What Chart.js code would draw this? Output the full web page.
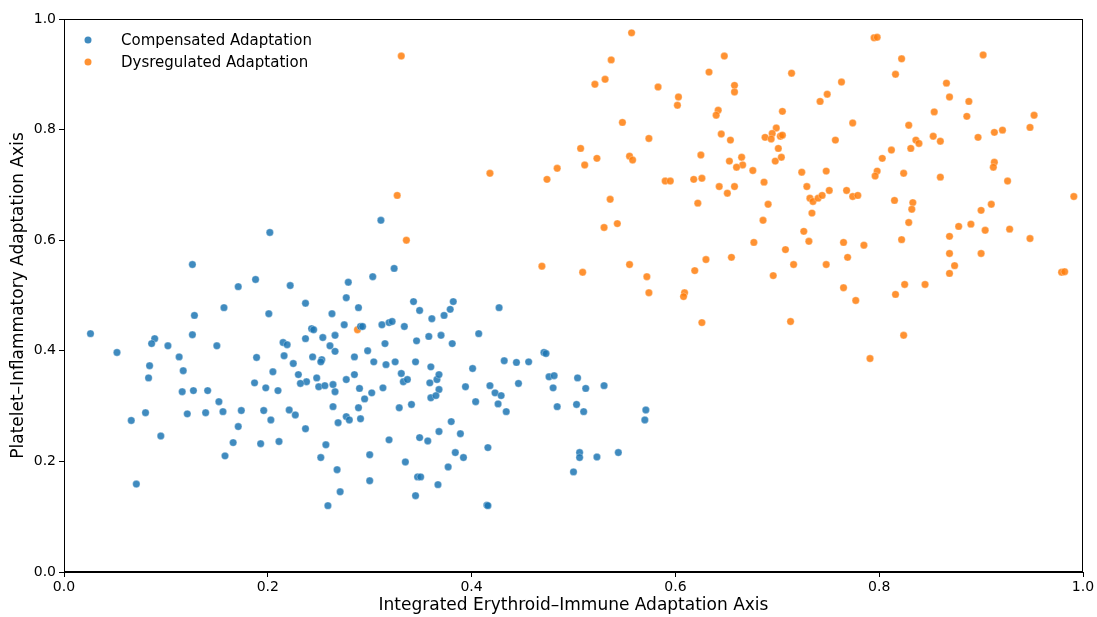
<!DOCTYPE html>
<html lang="en">
<head>
<meta charset="UTF-8">
<title>Adaptation axes</title>
<script src="https://cdn.jsdelivr.net/npm/chart.js"></script>
<style>
  html, body { margin: 0; padding: 0; background: #fff; }
  #wrap { width: 1097px; height: 617px; }
</style>
</head>
<body>
<div id="wrap"><canvas id="scatter" width="1097" height="617"></canvas></div>
<script>
// series labels
const seriesNames = ['Compensated Adaptation', 'Dysregulated Adaptation'];
const seriesColors = ['rgba(31,119,180,0.85)', 'rgba(255,127,14,0.85)'];

// axis ticks
const tickValues = [0, 0.2, 0.4, 0.6, 0.8, 1.0];

// [x, y]
const compensatedPoints = [
  [.202,.614],[.126,.556],[.188,.529],[.171,.516],[.222,.518],[.237,.486],[.157,.478],[.128,.464],[.201,.467],[.026,.431],
  [.126,.429],[.243,.440],[.245,.438],[.089,.422],[.086,.413],[.102,.409],[.150,.409],[.237,.422],[.052,.397],[.113,.389],
  [.189,.388],[.215,.415],[.219,.411],[.216,.391],[.244,.389],[.225,.377],[.084,.373],[.230,.357],[.117,.364],[.205,.362],
  [.083,.351],[.187,.342],[.198,.333],[.238,.344],[.232,.341],[.248,.351],[.250,.335],[.253,.384],[.252,.380],[.116,.326],
  [.127,.328],[.141,.328],[.210,.328],[.152,.308],[.080,.288],[.066,.274],[.121,.286],[.139,.288],[.156,.290],[.174,.292],
  [.196,.292],[.221,.293],[.227,.284],[.203,.275],[.171,.263],[.237,.259],[.095,.246],[.166,.234],[.193,.232],[.211,.236],
  [.158,.210],[.252,.207],[.071,.159],
  [.311,.636],[.324,.549],[.303,.534],[.279,.524],[.277,.496],[.343,.489],[.382,.489],[.289,.478],[.349,.473],[.379,.475],
  [.427,.478],[.263,.467],[.361,.458],[.373,.464],[.275,.447],[.291,.444],[.293,.444],[.312,.447],[.319,.451],[.322,.453],
  [.334,.444],[.254,.424],[.266,.428],[.358,.426],[.370,.428],[.407,.431],[.261,.409],[.266,.399],[.298,.400],[.315,.413],
  [.346,.418],[.381,.413],[.471,.397],[.473,.395],[.285,.389],[.304,.380],[.316,.375],[.325,.380],[.345,.380],[.360,.371],
  [.401,.368],[.432,.382],[.444,.379],[.456,.380],[.256,.337],[.264,.339],[.277,.348],[.285,.357],[.290,.332],[.313,.333],
  [.331,.359],[.333,.344],[.337,.348],[.359,.342],[.366,.348],[.368,.357],[.368,.330],[.394,.335],[.418,.337],[.446,.341],
  [.476,.353],[.481,.355],[.480,.333],
  [.266,.326],[.302,.324],[.264,.299],[.289,.297],[.295,.313],[.277,.281],[.280,.275],[.269,.270],[.291,.277],[.329,.297],
  [.341,.303],[.360,.315],[.365,.319],[.404,.308],[.423,.324],[.429,.319],[.426,.304],[.434,.290],[.484,.299],[.257,.230],
  [.319,.239],[.349,.243],[.357,.237],[.368,.254],[.380,.272],[.389,.250],[.300,.212],[.335,.199],[.384,.216],[.392,.207],
  [.416,.225],[.268,.185],[.377,.190],[.347,.172],[.350,.172],[.300,.165],[.367,.158],[.271,.145],[.345,.138],[.259,.120],
  [.415,.121],[.416,.120],[.500,.181],
  [.504,.351],[.512,.332],[.530,.337],[.503,.303],[.510,.290],[.571,.293],[.570,.275],[.506,.216],[.506,.207],[.523,.208],
  [.544,.216]
];

const dysregulatedPoints = [
  [.331,.933],[.418,.721],[.484,.730],[.474,.710],[.327,.681],[.336,.600],[.469,.553],[.288,.438],
  [.557,.975],[.537,.926],[.521,.882],[.531,.891],[.583,.877],[.603,.859],[.602,.844],[.548,.813],[.574,.784],[.507,.766],
  [.511,.736],[.523,.748],[.555,.752],[.558,.745],[.536,.674],[.590,.707],[.595,.707],[.618,.710],[.626,.712],[.625,.754],
  [.648,.933],[.633,.904],[.658,.880],[.658,.868],[.642,.835],[.640,.826],[.645,.792],[.654,.781],[.653,.743],[.665,.750],
  [.666,.736],[.660,.732],[.676,.726],[.643,.697],[.658,.697],[.651,.685],[.622,.667],[.687,.705],[.691,.665],[.714,.902],
  [.705,.833],[.699,.803],[.695,.793],[.688,.786],[.694,.783],[.703,.788],[.705,.790],[.701,.766],[.698,.743],[.704,.750],
  [.724,.723],[.748,.725],[.729,.697],[.732,.676],[.735,.670],[.740,.676],[.744,.681],[.751,.690],[.742,.851],[.749,.864],
  [.795,.966],[.798,.967],[.902,.935],[.822,.928],[.816,.900],[.763,.886],[.866,.884],[.869,.859],[.888,.851],[.886,.824],
  [.952,.826],[.774,.812],[.829,.808],[.854,.832],[.948,.804],[.757,.781],[.853,.788],[.860,.779],[.836,.781],[.839,.775],
  [.897,.786],[.913,.795],[.921,.799],[.831,.766],[.812,.763],[.803,.748],[.913,.741],[.912,.732],[.798,.725],[.796,.716],
  [.824,.721],[.860,.714],[.926,.707],[.768,.690],[.774,.679],[.779,.681],[.815,.672],[.833,.668],[.991,.679],[.910,.665],
  [.734,.649],[.543,.630],[.530,.623],[.686,.636],[.726,.616],[.731,.598],[.677,.596],[.708,.583],[.555,.556],[.509,.542],
  [.572,.534],[.630,.565],[.619,.545],[.655,.569],[.716,.556],[.748,.556],[.696,.536],[.574,.505],[.609,.505],[.608,.498],
  [.626,.451],[.713,.453],
  [.832,.656],[.900,.654],[.829,.632],[.878,.625],[.890,.629],[.904,.618],[.928,.620],[.869,.607],[.948,.603],[.765,.596],
  [.785,.591],[.822,.601],[.769,.569],[.869,.576],[.900,.576],[.874,.554],[.869,.540],[.979,.542],[.982,.543],[.765,.514],
  [.825,.520],[.845,.520],[.816,.502],[.777,.491],[.824,.428],[.791,.386]
];

const toXY = pts => pts.map(p => ({ x: p[0], y: p[1] }));

// frame round the plot and legend inside the top-left corner
const framePlugin = {
  id: 'frame',
  afterDraw(chart) {
    const { ctx, chartArea: a } = chart;
    ctx.save();
    ctx.strokeStyle = '#000';
    ctx.lineWidth = 1;
    ctx.strokeRect(a.left + 0.5, a.top + 0.5, a.right - a.left - 1, a.bottom - a.top - 1);

    ctx.font = '15px "DejaVu Sans"';
    ctx.textBaseline = 'middle';
    seriesNames.forEach((name, i) => {
      const y = a.top + 21 + i * 22;
      ctx.fillStyle = seriesColors[i];
      ctx.beginPath();
      ctx.arc(a.left + 24, y, 3.5, 0, Math.PI * 2);
      ctx.fill();
      ctx.fillStyle = '#000';
      ctx.fillText(name, a.left + 57, y + 1);
    });
    ctx.restore();
  }
};

const tickFont = { family: 'DejaVu Sans', size: 14 };
const titleFont = { family: 'DejaVu Sans', size: 17 };

new Chart(document.getElementById('scatter'), {
  type: 'scatter',
  data: {
    datasets: [
      {
        label: seriesNames[0],
        data: toXY(compensatedPoints),
        backgroundColor: seriesColors[0],
        borderColor: 'rgba(255,255,255,0.6)',
        borderWidth: 0.5,
        pointRadius: 3.7
      },
      {
        label: seriesNames[1],
        data: toXY(dysregulatedPoints),
        backgroundColor: seriesColors[1],
        borderColor: 'rgba(255,255,255,0.6)',
        borderWidth: 0.5,
        pointRadius: 3.7
      }
    ]
  },
  options: {
    responsive: false,
    animation: false,
    layout: { padding: { left: 0, top: 19, right: 14, bottom: 0 } },
    plugins: {
      legend: { display: false },
      tooltip: { enabled: false }
    },
    scales: {
      x: {
        type: 'linear',
        min: 0,
        max: 1,
        afterBuildTicks: s => { s.ticks = tickValues.map(v => ({ value: v })); },
        afterFit: s => { s.height = 45; },
        ticks: {
          color: '#000',
          font: tickFont,
          padding: 2,
          maxRotation: 0,
          callback: v => Number(v).toFixed(1)
        },
        grid: { display: true, drawOnChartArea: false, drawTicks: true, tickLength: 5, color: '#000' },
        border: { display: true, color: '#000' },
        title: {
          display: true,
          text: 'Integrated Erythroid–Immune Adaptation Axis',
          color: '#000',
          font: titleFont,
          padding: { top: 2, bottom: 1 }
        }
      },
      y: {
        type: 'linear',
        min: 0,
        max: 1,
        afterBuildTicks: s => { s.ticks = tickValues.map(v => ({ value: v })); },
        afterFit: s => { s.width = 64; },
        ticks: {
          color: '#000',
          font: tickFont,
          padding: 3,
          callback: v => Number(v).toFixed(1)
        },
        grid: { display: true, drawOnChartArea: false, drawTicks: true, tickLength: 5, color: '#000' },
        border: { display: true, color: '#000' },
        title: {
          display: true,
          text: 'Platelet–Inflammatory Adaptation Axis',
          color: '#000',
          font: titleFont,
          padding: { top: 8, bottom: 0 }
        }
      }
    }
  },
  plugins: [framePlugin]
});
</script>
</body>
</html>
